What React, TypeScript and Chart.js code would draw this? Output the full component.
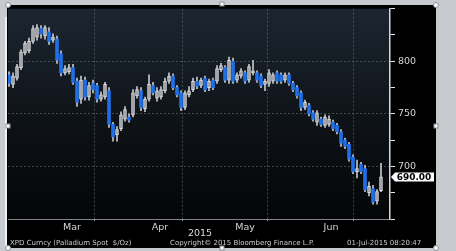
import React, { useEffect, useRef } from "react";
import { Chart, registerables } from "chart.js";

Chart.register(...registerables);

// Daily OHLC, Palladium spot ($/oz), 23-Feb-2015 .. 01-Jul-2015 (trading-day index)
const opens = [
  787, 778, 784, 794, 808, 810, 819, 823, 831, 824, 828, 820, 821, 807, 789, 790,
  794, 781, 764, 782, 766, 779, 777, 764, 766, 772, 740, 730, 736, 745, 747, 749,
  767, 772, 755, 764, 777, 765, 766, 772, 781, 786, 775, 770, 756, 768, 773, 781,
  777, 784, 775, 782, 781, 792, 794, 782, 800, 782, 786, 789, 782, 789, 789, 786,
  778, 779, 781, 789, 787, 782, 787, 779, 775, 770, 756, 758, 751, 742, 745, 739,
  740, 742, 739, 733, 725, 721, 709, 695, 702, 698, 675, 679, 667, 677,
];
const highs = [
  790, 789, 797, 811, 819, 822, 834, 835, 834, 834, 832, 826, 824, 810, 796, 797,
  797, 784, 786, 785, 780, 782, 779, 771, 780, 775, 742, 738, 752, 757, 750, 773,
  776, 775, 766, 787, 780, 775, 776, 784, 789, 788, 777, 772, 772, 776, 784, 785,
  784, 786, 783, 784, 796, 798, 796, 804, 803, 789, 793, 791, 797, 801, 791, 788,
  783, 792, 789, 791, 789, 789, 789, 781, 777, 772, 763, 760, 753, 753, 747, 749,
  748, 744, 741, 735, 727, 723, 711, 706, 704, 701, 685, 682, 678, 703,
];
const lows = [
  776, 775, 782, 792, 806, 808, 817, 820, 822, 821, 816, 818, 798, 786, 787, 788,
  778, 757, 760, 763, 763, 770, 761, 762, 764, 737, 724, 724, 734, 743, 742, 747,
  765, 753, 752, 762, 768, 762, 764, 770, 779, 773, 766, 753, 754, 766, 771, 774,
  775, 771, 772, 773, 779, 790, 780, 779, 779, 780, 784, 779, 780, 787, 780, 775,
  772, 776, 779, 779, 779, 780, 777, 771, 765, 753, 754, 748, 743, 739, 738, 737,
  738, 734, 731, 719, 717, 705, 693, 689, 693, 676, 672, 664, 664, 676,
];
const closes = [
  779, 786, 795, 809, 817, 819, 831, 832, 826, 832, 819, 823, 801, 789, 793, 794,
  780, 761, 782, 766, 777, 773, 764, 768, 778, 740, 728, 735, 749, 754, 744, 770,
  773, 756, 764, 778, 770, 772, 773, 781, 786, 775, 768, 756, 770, 772, 781, 776,
  782, 773, 781, 775, 793, 796, 782, 801, 781, 787, 791, 781, 795, 791, 782, 777,
  781, 789, 787, 781, 781, 787, 779, 773, 767, 756, 761, 750, 745, 751, 740, 747,
  745, 736, 733, 722, 719, 707, 695, 698, 695, 678, 681, 666, 676, 690,
];

// Axis labels / positions (in trading-day index units)
const monthNames = ["Mar", "Apr", "May", "Jun"];
const monthLabelPos = [15.75, 37.75, 59, 80.5];
const monthBoundaries = [4.75, 27, 49, 70, 91.75];
const yTickLabels = [700, 750, 800];
const yearLabel = "2015";
const footerLeft = "XPD Curncy (Palladium Spot  $/Oz)";
const footerMid = "Copyright\u00A9 2015 Bloomberg Finance L.P.";
const footerRight = "01-Jul-2015 08:20:47";

const UP_FILL = "#9a9da1";
const UP_EDGE = "#dcdee0";
const DOWN_FILL = "#1f6fe6";
const WICK = "#c4c7ca";
const GRID = "rgba(110,118,126,0.55)";
const FONT = "'DejaVu Sans', 'Liberation Sans', sans-serif";

const framePlugin = {
  id: "frame",
  beforeDraw(chart: any) {
    const { ctx, width, height, chartArea } = chart;
    ctx.save();
    ctx.fillStyle = "#c7cbcf";
    ctx.fillRect(0, 0, width, height);
    ctx.fillStyle = "#000000";
    ctx.fillRect(7, 5, 429, 243);
    const g = ctx.createLinearGradient(0, chartArea.top, 0, chartArea.bottom);
    g.addColorStop(0, "#1c2631");
    g.addColorStop(0.5, "#0f1419");
    g.addColorStop(1, "#040506");
    ctx.fillStyle = g;
    ctx.fillRect(chartArea.left, chartArea.top, chartArea.right - chartArea.left, chartArea.bottom - chartArea.top);
    ctx.fillStyle = "#eef0f2";
    ctx.fillRect(5, 17, 2, 229);
    ctx.restore();
  },
  afterDraw(chart: any) {
    const { ctx, scales } = chart;
    ctx.save();
    // year label
    ctx.fillStyle = "#d6d9dc";
    ctx.font = `9.5px ${FONT}`;
    ctx.textAlign = "center";
    ctx.textBaseline = "middle";
    ctx.fillText(yearLabel, 200, 234);
    // footer
    ctx.font = `7px ${FONT}`;
    ctx.textAlign = "left";
    ctx.fillStyle = "#c9ccd0";
    ctx.fillText(footerLeft, 10, 243.5, 142);
    ctx.fillText(footerMid, 170, 243.5, 158);
    ctx.fillText(footerRight, 347, 243.5, 87);
    // last price tag
    const last = closes[closes.length - 1];
    const py = scales.y.getPixelForValue(last);
    const x0 = 391, x1 = 434, h = 4.5;
    ctx.beginPath();
    ctx.moveTo(x0, py);
    ctx.lineTo(x0 + 4, py - h);
    ctx.lineTo(x1, py - h);
    ctx.lineTo(x1, py + h);
    ctx.lineTo(x0 + 4, py + h);
    ctx.closePath();
    ctx.fillStyle = "#ffffff";
    ctx.fill();
    ctx.fillStyle = "#000000";
    ctx.font = `bold 9px ${FONT}`;
    ctx.textAlign = "center";
    ctx.fillText(last.toFixed(2), 414, py + 0.5, 40);
    // selection handles
    ctx.lineWidth = 1;
    ctx.strokeStyle = "#8a9096";
    ctx.fillStyle = "#ffffff";
    const circles = [[8, 5], [436, 5], [436, 248], [8, 248]];
    circles.forEach(([cx, cy]) => {
      ctx.beginPath();
      ctx.arc(cx, cy, 2.5, 0, Math.PI * 2);
      ctx.fill();
      ctx.stroke();
    });
    const squares = [[222, 4], [436, 126], [8, 126], [222, 248]];
    squares.forEach(([sx, sy]) => {
      ctx.fillRect(sx - 2, sy - 2, 4, 4);
      ctx.strokeRect(sx - 2, sy - 2, 4, 4);
    });
    ctx.restore();
  },
};

export default function App() {
  const ref = useRef<HTMLCanvasElement | null>(null);

  useEffect(() => {
    if (!ref.current) return;
    const idx = closes.map((_, i) => i);
    const isUp = idx.map((i) => closes[i] >= opens[i]);
    const chart = new Chart(ref.current, {
      type: "bar",
      data: {
        datasets: [
          {
            label: "body",
            data: idx.map((i) => ({ x: i, y: [opens[i], closes[i]] })) as any,
            backgroundColor: isUp.map((u) => (u ? UP_FILL : DOWN_FILL)),
            borderColor: isUp.map((u) => (u ? UP_EDGE : DOWN_FILL)),
            borderWidth: isUp.map((u) => (u ? 1 : 0)) as any,
            borderSkipped: false,
            barThickness: 3,
            grouped: false,
            order: 0,
          },
          {
            label: "wick",
            data: idx.map((i) => ({ x: i, y: [lows[i], highs[i]] })) as any,
            backgroundColor: WICK,
            borderWidth: 0,
            barThickness: 1,
            grouped: false,
            order: 1,
          },
        ],
      },
      options: {
        animation: false,
        responsive: false,
        maintainAspectRatio: false,
        layout: { padding: { left: 8, right: 20, top: 5, bottom: 4 } },
        plugins: { legend: { display: false }, tooltip: { enabled: false } },
        scales: {
          x: {
            type: "linear",
            min: -0.25,
            max: 95.25,
            offset: false,
            afterBuildTicks: (s: any) => {
              s.ticks = [...monthBoundaries, ...monthLabelPos]
                .sort((a, b) => a - b)
                .map((v) => ({ value: v }));
            },
            afterFit: (s: any) => {
              s.height = 28;
            },
            ticks: {
              autoSkip: false,
              maxRotation: 0,
              padding: 1,
              color: "#d2d5d8",
              font: { family: FONT, size: 9.5 },
              callback: (v: any) => {
                const k = monthLabelPos.indexOf(Number(v));
                return k >= 0 ? monthNames[k] : "";
              },
            },
            grid: {
              color: (c: any) => (c.tick && monthBoundaries.includes(c.tick.value) ? GRID : "transparent"),
              tickColor: (c: any) => (c.tick && monthBoundaries.includes(c.tick.value) ? "#9aa0a6" : "transparent"),
              lineWidth: 1,
              drawTicks: true,
              tickLength: 2,
            },
            border: { display: true, color: "#80868c", width: 1, dash: [2, 2] },
          },
          y: {
            type: "linear",
            position: "right",
            min: 650,
            max: 850,
            afterFit: (s: any) => {
              s.width = 46;
            },
            ticks: {
              stepSize: 25,
              autoSkip: false,
              padding: 3,
              color: "#d2d5d8",
              font: { family: FONT, size: 9.5 },
              callback: (v: any) => (yTickLabels.includes(Number(v)) ? String(v) : ""),
            },
            grid: {
              color: (c: any) => (c.tick && yTickLabels.includes(c.tick.value) ? GRID : "transparent"),
              tickColor: "#e4e6e8",
              lineWidth: 1,
              drawTicks: true,
              tickLength: 5,
            },
            border: { display: true, color: "#d6d8da", width: 1.5, dash: [2, 2] },
          },
        },
      },
      plugins: [framePlugin],
    });
    return () => chart.destroy();
  }, []);

  return (
    <div style={{ position: "fixed", left: 0, top: 0, width: 456, height: 251 }}>
      <canvas ref={ref} width={456} height={251} style={{ display: "block" }} />
    </div>
  );
}
